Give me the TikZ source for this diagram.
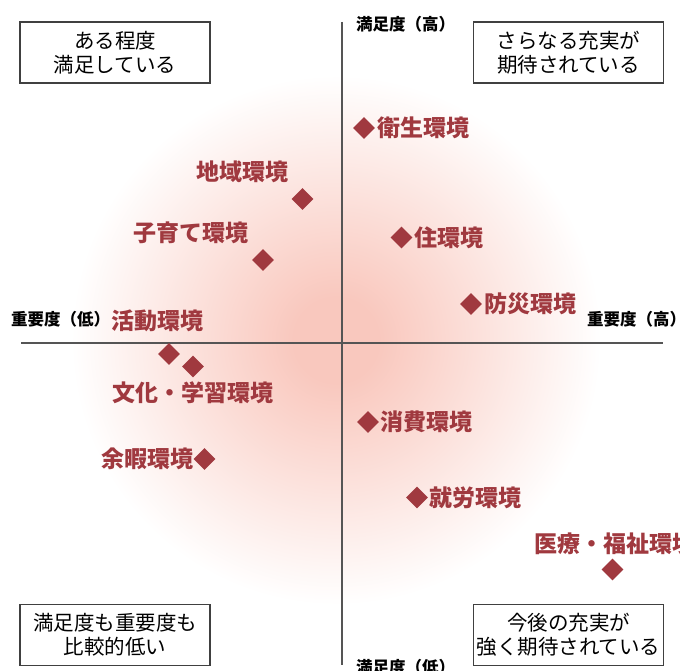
\documentclass[tikz,border=0pt]{standalone}
\usepackage{fontspec}
\newfontfamily\jp{Noto Sans CJK JP}
\usepackage{tikz}
\usetikzlibrary{positioning, shapes.geometric}
\definecolor{dotred}{RGB}{160,57,63}
\definecolor{glowpink}{RGB}{249,200,190}
\definecolor{axisgray}{RGB}{85,85,85}
\pgfdeclareradialshading{glow}{\pgfpoint{0bp}{0bp}}{color(0bp)=(glowpink); color(4bp)=(glowpink); color(25bp)=(white); color(50bp)=(white)}

\begin{document}
\begin{tikzpicture}[x=1pt, y=-1pt, font=\jp,
	dot/.style={diamond, fill=dotred, inner sep=0pt, minimum size=22pt},
	area/.style={text=dotred, font=\jp\bfseries\fontsize{23}{23}\selectfont, inner sep=0pt},
	axislabel/.style={font=\jp\bfseries\fontsize{16.5}{16.5}\selectfont, inner sep=0pt, anchor=west},
	quadrant/.style={draw=black!75, line width=1.2pt, minimum width=190pt, minimum height=61pt, align=center, font=\jp\fontsize{20.5}{24}\selectfont, inner sep=0pt},
	axis/.style={draw=axisgray, line width=1.8pt}]

	\useasboundingbox (0,0) rectangle (680,671);
	\clip (0,0) rectangle (680,671);

	\coordinate (C) at (336,340);
	\shade[shading=glow] (C) circle (265);

	% axes
	\coordinate (xlow) at (21,343);
	\coordinate (xhigh) at (663,343);
	\coordinate (yhigh) at (342,22);
	\coordinate (ylow) at (342,665);
	\draw[axis] (xlow) -- (xhigh);
	\draw[axis] (yhigh) -- (ylow);

	\node[axislabel] (satHigh) at (356,24) {満足度（高）};
	\node[axislabel] (impLow) at (11,319) {重要度（低）};
	\node[axislabel] (impHigh) at (587,319) {重要度（高）};
	\node[axislabel] (satLow) at (356,667) {満足度（低）};

	\node[quadrant] (q1) at (115,52.5) {ある程度\\満足している};
	\node[quadrant] (q2) at (568.5,52.5) {さらなる充実が\\期待されている};
	\node[quadrant] (q3) at (115,635) {満足度も重要度も\\比較的低い};
	\node[quadrant] (q4) at (568.5,635) {今後の充実が\\強く期待されている};

	% data points
	\node[dot] (eisei) at (364,128) {};
	\node[area, right=2pt of eisei] (eiseiL) {衛生環境};
	\node[dot] (chiiki) at (302.5,199) {};
	\node[area] (chiikiL) at (242,172) {地域環境};
	\node[dot] (sumai) at (401.5,237.5) {};
	\node[area, right=2pt of sumai] (sumaiL) {住環境};
	\node[dot] (kosodate) at (263,260) {};
	\node[area] (kosodateL) at (191,233) {子育て環境};
	\node[dot] (bousai) at (471,304) {};
	\node[area, right=2pt of bousai] (bousaiL) {防災環境};
	\node[dot] (katsudou) at (169,354) {};
	\node[area] (katsudouL) at (157,321) {活動環境};
	\node[dot] (bunka) at (193,366.5) {};
	\node[area] (bunkaL) at (192.5,393) {文化・学習環境};
	\node[dot] (yoka) at (204.5,459) {};
	\node[area, left=0pt of yoka] (yokaL) {余暇環境};
	\node[dot] (shouhi) at (368,422) {};
	\node[area, right=1pt of shouhi] (shouhiL) {消費環境};
	\node[dot] (shurou) at (417,497.5) {};
	\node[area, right=1pt of shurou] (shurouL) {就労環境};
	\node[dot] (iryou) at (612.5,569.5) {};
	\node[area, anchor=west] (iryouL) at (534,544) {医療・福祉環境};

\end{tikzpicture}
\end{document}
